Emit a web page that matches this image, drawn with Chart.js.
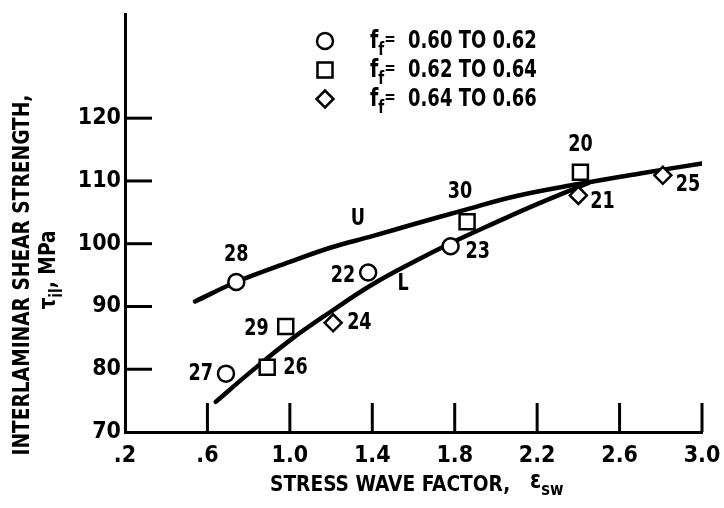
<!DOCTYPE html>
<html>
<head>
<meta charset="utf-8">
<script src="https://cdn.jsdelivr.net/npm/chart.js@4/dist/chart.umd.min.js"></script>
<style>
  body { margin: 0; background: #fff; }
  canvas { display: block; }
</style>
</head>
<body>
<canvas id="chart" width="724" height="508"></canvas>
<script>
// data
const circleX = [0.69, 0.74, 1.38, 1.78];
const circleY = [79.3, 93.9, 95.4, 99.6];
const circleIds = ['27', '28', '22', '23'];

const squareX = [0.89, 0.98, 1.86, 2.41];
const squareY = [80.3, 86.8, 103.5, 111.4];
const squareIds = ['26', '29', '30', '20'];

const diamondX = [1.21, 2.40, 2.81];
const diamondY = [87.4, 107.7, 110.9];
const diamondIds = ['24', '21', '25'];

// upper (U) and lower (L) bounding curves
const upperX = [0.54, 0.74, 1.0, 1.2, 1.4, 1.6, 1.85, 2.1, 2.4, 2.7, 3.0];
const upperY = [90.8, 93.9, 97.1, 99.4, 101.2, 103.1, 105.4, 107.6, 109.5, 111.2, 112.8];
const lowerX = [0.64, 0.8, 1.0, 1.2, 1.4, 1.6, 1.8, 2.0, 2.2, 2.45];
const lowerY = [74.8, 79.3, 84.6, 89.2, 93.5, 97.1, 100.4, 103.4, 106.3, 109.7];

const xTicks = [0.2, 0.6, 1.0, 1.4, 1.8, 2.2, 2.6, 3.0];
const yTicks = [70, 80, 90, 100, 110, 120];
const legendRanges = ['0.60 TO 0.62', '0.62 TO 0.64', '0.64 TO 0.66'];

const FONT = "'Liberation Sans Narrow', 'DejaVu Sans Condensed', 'Arial Narrow', sans-serif";

// where each specimen number sits relative to its marker (px)
const idOffsets = {
  '27': [-13, 0, 'right'], '28': [0, -27, 'center'], '22': [-13, 3, 'right'], '23': [15, 6, 'left'],
  '26': [16, 1, 'left'], '29': [-17, 2, 'right'], '30': [-7, -30, 'center'], '20': [0, -27, 'center'],
  '24': [14, 0, 'left'], '21': [12, 7, 'left'], '25': [13, 10, 'left']
};

const toPts = (xs, ys) => xs.map((x, i) => ({ x: x, y: ys[i] }));

// draws a run of [string, isSubscript] pieces, squeezed horizontally by sx
function run(ctx, parts, x, y, size, align, sx) {
  sx = sx || 1;
  const fontOf = sub => 'bold ' + (sub ? Math.round(size * 0.72) : size) + 'px ' + FONT;
  let total = 0;
  parts.forEach(p => { ctx.font = fontOf(p[1]); total += ctx.measureText(p[0]).width * sx; });
  let cx = align === 'center' ? x - total / 2 : align === 'right' ? x - total : x;
  ctx.textAlign = 'left';
  ctx.textBaseline = 'middle';
  parts.forEach(p => {
    ctx.font = fontOf(p[1]);
    ctx.save();
    ctx.translate(cx, p[1] ? y + size * 0.38 : y);
    ctx.scale(sx, 1);
    ctx.fillText(p[0], 0, 0);
    ctx.restore();
    cx += ctx.measureText(p[0]).width * sx;
  });
  return total;
}

function text(ctx, str, x, y, size, align, sx) {
  return run(ctx, [[str, false]], x, y, size, align || 'center', sx);
}

function marker(ctx, style, x, y) {
  ctx.save();
  ctx.lineWidth = 2.5;
  ctx.strokeStyle = '#000';
  ctx.fillStyle = '#fff';
  ctx.beginPath();
  if (style === 'circle') ctx.arc(x, y, 8, 0, Math.PI * 2);
  else if (style === 'rect') ctx.rect(x - 7.5, y - 7.5, 15, 15);
  else { ctx.moveTo(x, y - 8.5); ctx.lineTo(x + 8.5, y); ctx.lineTo(x, y + 8.5); ctx.lineTo(x - 8.5, y); ctx.closePath(); }
  ctx.fill();
  ctx.stroke();
  ctx.restore();
}

const decorations = {
  id: 'decorations',
  afterDraw(chart) {
    const ctx = chart.ctx;
    const xs = chart.scales.x, ys = chart.scales.y;
    const area = chart.chartArea;
    ctx.save();
    ctx.fillStyle = '#000';
    ctx.strokeStyle = '#000';
    ctx.lineWidth = 3;

    // inward tick marks
    xTicks.slice(1).forEach(v => {
      const px = xs.getPixelForValue(v);
      ctx.beginPath(); ctx.moveTo(px, area.bottom); ctx.lineTo(px, area.bottom - 29); ctx.stroke();
    });
    yTicks.slice(1).forEach(v => {
      const py = ys.getPixelForValue(v);
      ctx.beginPath(); ctx.moveTo(area.left, py); ctx.lineTo(area.left + 27, py); ctx.stroke();
    });

    // specimen numbers
    const groups = [[circleX, circleY, circleIds], [squareX, squareY, squareIds], [diamondX, diamondY, diamondIds]];
    groups.forEach(g => {
      g[2].forEach((id, i) => {
        const o = idOffsets[id];
        text(ctx, id, xs.getPixelForValue(g[0][i]) + o[0], ys.getPixelForValue(g[1][i]) + o[1], 23, o[2], 0.85);
      });
    });

    // curve labels
    text(ctx, 'U', xs.getPixelForValue(1.33), ys.getPixelForValue(104.0), 23, 'center', 0.85);
    text(ctx, 'L', xs.getPixelForValue(1.55), ys.getPixelForValue(93.6), 23, 'center', 0.85);

    // legend
    const styles = ['circle', 'rect', 'rectRot'];
    legendRanges.forEach((r, i) => {
      const y = 41 + i * 29;
      marker(ctx, styles[i], 325, y);
      run(ctx, [['f', false], ['f', true]], 370, y, 25, 'left', 0.85);
      text(ctx, '=', 390, y - 1, 18, 'center', 0.85);
      text(ctx, r, 408, y, 25, 'left', 0.8);
    });

    // x axis title
    run(ctx, [['STRESS WAVE FACTOR,', false]], 270, 485, 22, 'left', 0.94);
    run(ctx, [['\u03b5', false], ['sw', true]], 530, 481, 25, 'left', 0.9);

    // y axis title
    ctx.save();
    ctx.translate(23, 275);
    ctx.rotate(-Math.PI / 2);
    text(ctx, 'INTERLAMINAR SHEAR STRENGTH,', 0, 0, 23, 'center', 0.9);
    ctx.restore();
    ctx.save();
    ctx.translate(49, 270);
    ctx.rotate(-Math.PI / 2);
    run(ctx, [['\u03c4', false], ['il', true], [', MPa', false]], 0, 0, 23, 'center', 0.9);
    ctx.restore();

    ctx.restore();
  }
};

new Chart(document.getElementById('chart'), {
  type: 'scatter',
  data: {
    datasets: [
      { data: toPts(circleX, circleY), pointStyle: 'circle', pointRadius: 8 },
      { data: toPts(squareX, squareY), pointStyle: 'rect', pointRadius: 10.6 },
      { data: toPts(diamondX, diamondY), pointStyle: 'rectRot', pointRadius: 8.5 },
      { data: toPts(upperX, upperY), showLine: true, pointRadius: 0, borderWidth: 4.5, tension: 0.4 },
      { data: toPts(lowerX, lowerY), showLine: true, pointRadius: 0, borderWidth: 4.5, tension: 0.4 }
    ]
  },
  options: {
    responsive: false,
    animation: false,
    devicePixelRatio: 1,
    layout: { padding: { top: 14, right: 22, left: 0, bottom: 0 } },
    elements: {
      point: { backgroundColor: '#fff', borderColor: '#000', borderWidth: 2.5 },
      line: { borderColor: '#000', borderCapStyle: 'round' }
    },
    plugins: { legend: { display: false }, tooltip: { enabled: false } },
    scales: {
      x: {
        type: 'linear', min: 0.2, max: 3.0,
        afterBuildTicks: s => { s.ticks = xTicks.map(v => ({ value: v })); },
        afterFit: s => { s.height = 76; s.paddingLeft = 0; s.paddingRight = 0; },
        grid: { display: true, drawOnChartArea: false, drawTicks: false },
        border: { display: true, width: 3, color: '#000' },
        ticks: {
          padding: 10, color: '#000',
          font: { family: FONT, size: 23, weight: 'bold' },
          callback: v => v.toFixed(1).replace(/^0/, '')
        }
      },
      y: {
        type: 'linear', min: 70, max: 136.6,
        afterBuildTicks: s => { s.ticks = yTicks.map(v => ({ value: v })); },
        afterFit: s => { s.width = 125; s.paddingTop = 0; s.paddingBottom = 0; },
        grid: { display: true, drawOnChartArea: false, drawTicks: false },
        border: { display: true, width: 3, color: '#000' },
        ticks: {
          padding: 4, color: '#000',
          font: { family: FONT, size: 23, weight: 'bold' }
        }
      }
    }
  },
  plugins: [decorations]
});
</script>
</body>
</html>
